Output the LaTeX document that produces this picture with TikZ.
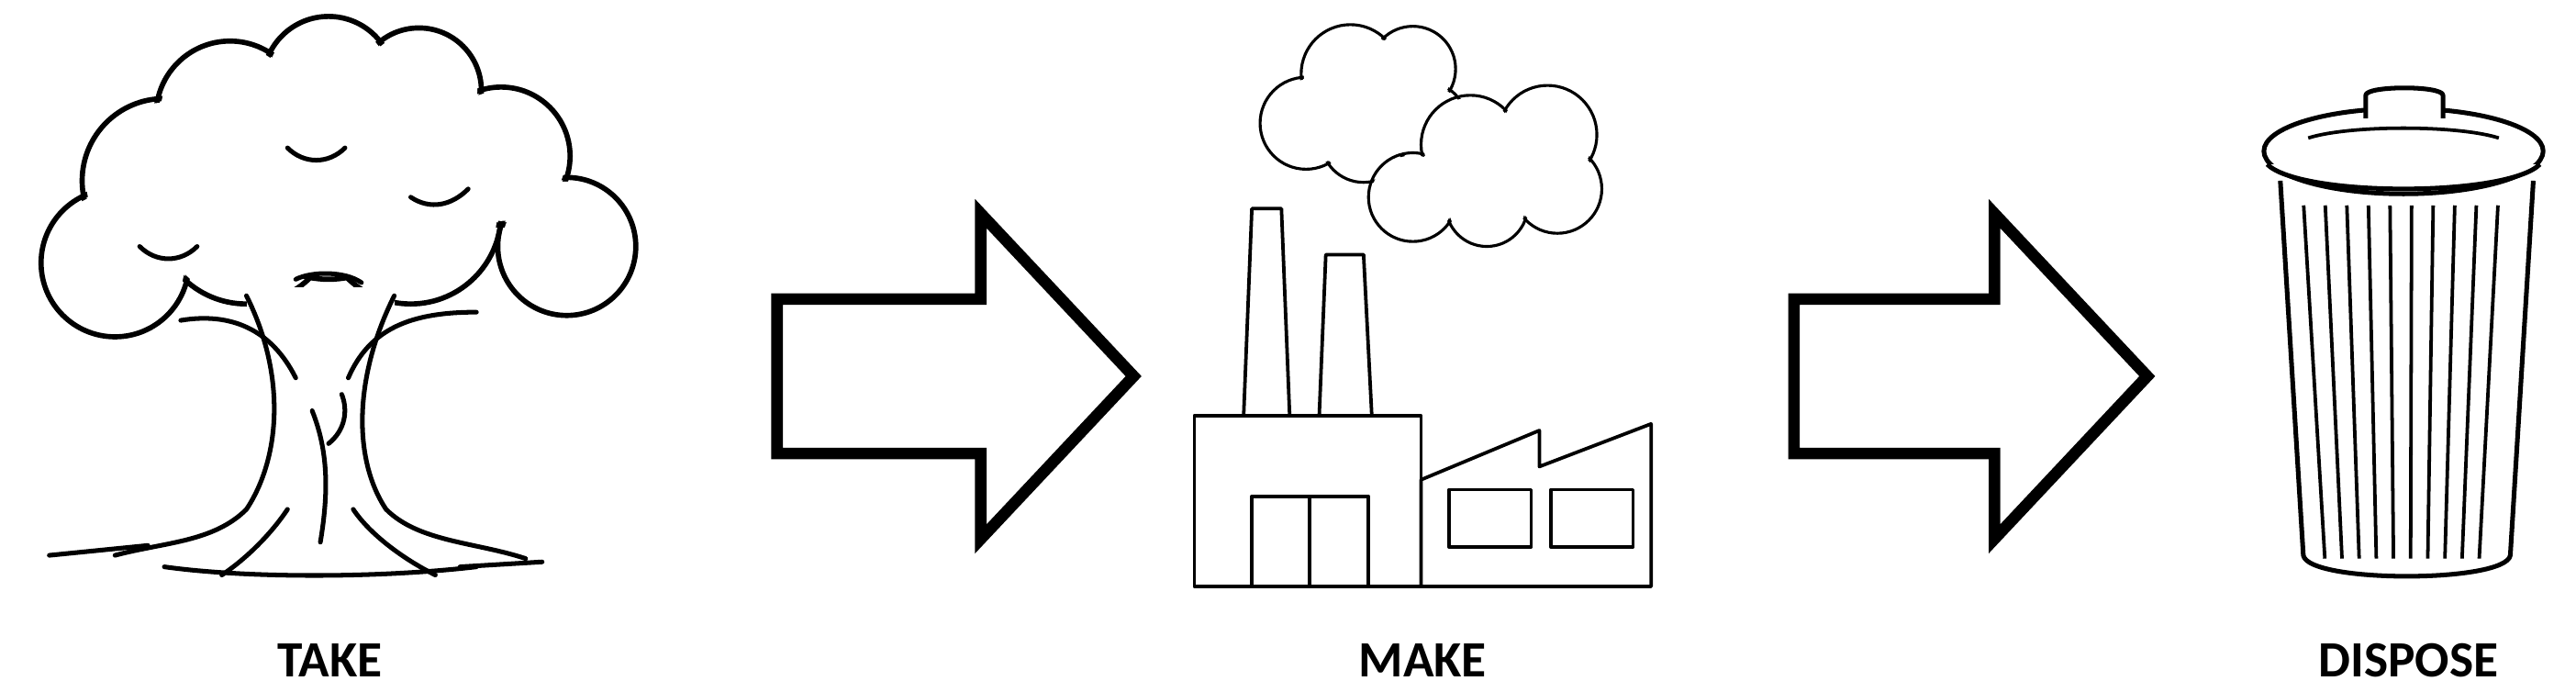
\documentclass[tikz,border=0pt]{standalone}
\usepackage{fontspec}
\setmainfont{Carlito}
\begin{document}
\begin{tikzpicture}[x=0.05cm,y=-0.05cm,
  lbl/.style={font=\fontsize{44}{50}\selectfont\bfseries},
  bigarrow/.style={draw=black,line width=10pt,line join=miter,fill=white},
  fac/.style={draw=black,line width=3pt,fill=white,line join=round},
  ink/.style={draw=black,line width=4pt,line cap=round,line join=round}]
\useasboundingbox (0,0) rectangle (1568,421);
% arrows
\draw[bigarrow] (473,182)--(597,182)--(597,130)--(690,229)--(597,328)--(597,276)--(473,276)--cycle;
\draw[bigarrow] (1092,182)--(1214,182)--(1214,130)--(1307,229)--(1214,328)--(1214,276)--(1092,276)--cycle;
% labels
\node[lbl] (take) at (201,402) {TAKE};
\node[lbl] (make) at (866,402) {MAKE};
\node[lbl] (disp) at (1466,402) {DISPOSE};
% clouds (back)
\def\cloudA{{(795,75)}/28,{(822,45)}/30,{(860,42)}/26,{(868,75)}/25,{(830,85)}/26,{(830,62)}/30}
\foreach \c/\r in \cloudA \draw[line width=2.5pt] \c circle (\r);
\foreach \c/\r in \cloudA \fill[white] \c circle (\r-1.6);
% cloud (front)
\def\cloudB{{(860,120)}/27,{(895,88)}/30,{(942,82)}/30,{(948,115)}/27,{(905,125)}/25,{(905,108)}/30}
\foreach \c/\r in \cloudB \draw[line width=2.5pt] \c circle (\r);
\foreach \c/\r in \cloudB \fill[white] \c circle (\r-1.6);
% factory
\draw[fac] (757,253)--(762,127)--(780,127)--(785,253)--cycle;
\draw[fac] (803,253)--(807,155)--(830,155)--(835,253)--cycle;
\draw[fac] (727,253) rectangle (865,357);
\draw[fac] (762,302) rectangle (833,357);
\draw[fac] (797,302)--(797,357);
\draw[fac] (865,357)--(865,292)--(937,262)--(937,284)--(1005,258)--(1005,357)--cycle;
\draw[fac] (882,298) rectangle (932,333);
\draw[fac] (944,298) rectangle (994,333);
% tree canopy
\def\canopy{{(70,160)}/45,{(100,110)}/50,{(140,70)}/45,{(200,50)}/40,{(255,55)}/38,{(305,95)}/42,{(345,150)}/42,{(150,130)}/55,{(250,130)}/55,{(200,110)}/60}
\foreach \c/\r in \canopy \draw[line width=4.5pt] \c circle (\r);
\foreach \c/\r in \canopy \fill[white] \c circle (\r-2.5);
% trunk
\fill[white] (150,175) rectangle (240,330);
\draw[ink] (150,180) .. controls (175,230) and (170,280) .. (150,310) .. controls (130,330) and (100,330) .. (70,338);
\draw[ink] (240,180) .. controls (215,230) and (215,280) .. (235,310) .. controls (255,330) and (290,330) .. (320,340);
\draw[ink] (110,195) .. controls (140,190) and (165,200) .. (180,230);
\draw[ink] (290,190) .. controls (250,190) and (225,200) .. (212,230);
\draw[ink] (190,250) .. controls (200,275) and (200,300) .. (195,330);
\draw[ink] (175,310) .. controls (165,325) and (150,340) .. (135,350);
\draw[ink] (215,310) .. controls (225,325) and (245,340) .. (265,350);
\draw[ink] (30,338)--(90,332);
\draw[ink] (280,345)--(330,342);
\draw[ink] (100,345) .. controls (150,352) and (230,352) .. (290,345);
\draw[ink] (175,90) .. controls (185,100) and (200,100) .. (210,90);
\draw[ink] (250,120) .. controls (262,128) and (275,125) .. (285,115);
\draw[ink] (85,150) .. controls (95,160) and (110,160) .. (120,150);
\draw[ink] (180,170) .. controls (190,165) and (210,165) .. (220,172);
\draw[ink] (200,270) .. controls (210,262) and (212,250) .. (208,240);
% trash can
\draw[fac,line width=4pt] (1388,110)--(1402,338) .. controls (1405,355) and (1525,355) .. (1528,338)--(1542,110);
\foreach \t in {0.07,0.16,...,0.95}
  \draw[line width=3pt] ({1392+\t*146},125)--({1407+\t*116},340);
\draw[fac,line width=4pt] (1463,92) ellipse (85 and 26);
\draw[fac,line width=4pt] (1380,100) .. controls (1400,120) and (1526,120) .. (1546,100);
\draw[fac,line width=4pt] (1440,72)--(1440,58) .. controls (1440,52) and (1487,52) .. (1487,58)--(1487,72);
\draw[line width=3pt] (1405,84) .. controls (1430,76) and (1496,76) .. (1521,84);
\end{tikzpicture}
\end{document}
